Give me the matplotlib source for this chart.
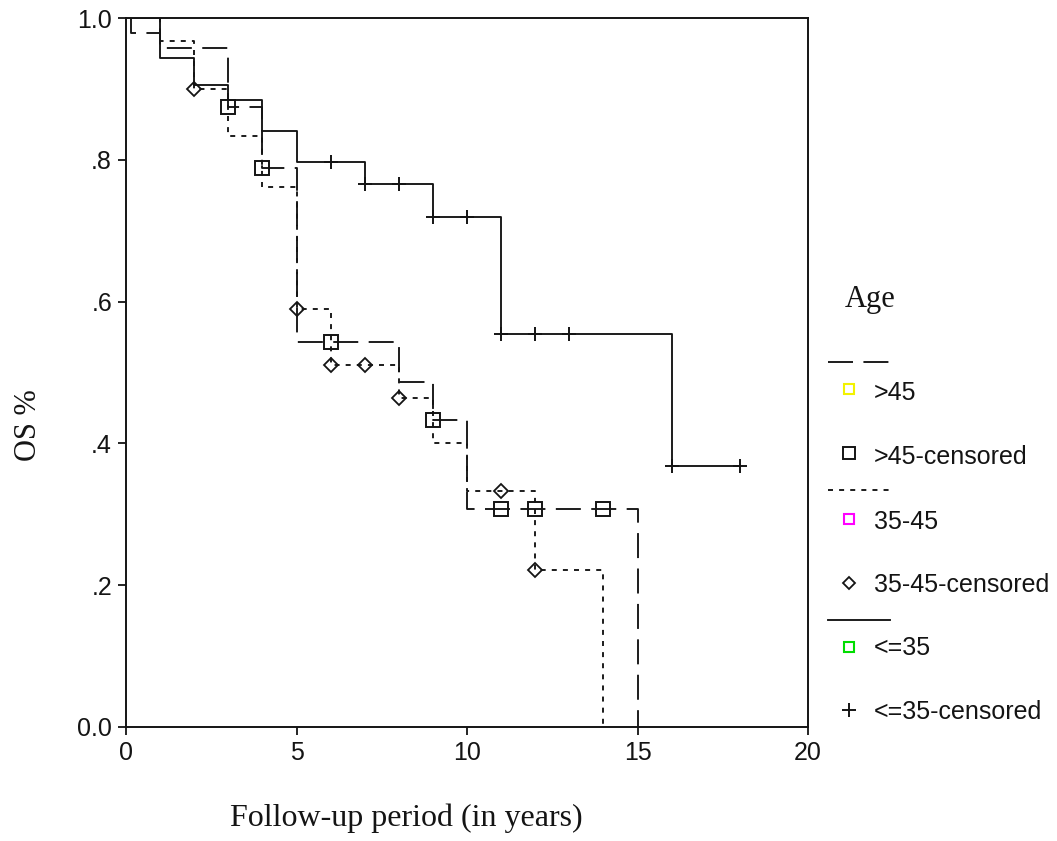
import matplotlib
matplotlib.use("Agg")
import matplotlib.pyplot as plt
from matplotlib.lines import Line2D

# Kaplan-Meier steps (time in years, survival fraction)
gt45_times = [0, 0.15, 1, 3, 4, 5, 8, 9, 10, 15]
gt45_surv = [1.0, 0.979, 0.957, 0.874, 0.788, 0.543, 0.487, 0.433, 0.308, 0.0]
gt45_cens_t = [3, 4, 6, 9, 11, 12, 14]
gt45_cens_s = [0.874, 0.788, 0.543, 0.433, 0.308, 0.308, 0.308]

mid_times = [0, 1, 2, 3, 4, 5, 6, 8, 9, 10, 12, 14]
mid_surv = [1.0, 0.967, 0.900, 0.833, 0.762, 0.589, 0.510, 0.464, 0.400, 0.333, 0.222, 0.0]
mid_cens_t = [2, 5, 6, 7, 8, 11, 12]
mid_cens_s = [0.900, 0.589, 0.510, 0.510, 0.464, 0.333, 0.222]

le35_times = [0, 1, 2, 3, 4, 5, 7, 9, 11, 16, 18]
le35_surv = [1.0, 0.943, 0.905, 0.884, 0.840, 0.797, 0.766, 0.720, 0.554, 0.368, 0.368]
le35_cens_t = [6, 7, 8, 9, 10, 11, 12, 13, 16, 18]
le35_cens_s = [0.797, 0.766, 0.766, 0.720, 0.720, 0.554, 0.554, 0.554, 0.368, 0.368]

x_ticks = [0, 5, 10, 15, 20]
y_ticks = [0.0, 0.2, 0.4, 0.6, 0.8, 1.0]
y_tick_labels = ["0.0", ".2", ".4", ".6", ".8", "1.0"]

legend_labels = [">45", ">45-censored", "35-45", "35-45-censored", "<=35", "<=35-censored"]

plt.rcParams['lines.scale_dashes'] = False
SANS = "Liberation Sans"
SERIF = "Liberation Serif"
INK = "#141414"
LONG = (0, (18, 7.5))
SHORT = (0, (3.6, 4.4))

W, H = 1057, 841
fig = plt.figure(figsize=(W / 100, H / 100), dpi=100)


def px(x, y):
    """pixel position -> figure fraction"""
    return x / W, 1 - y / H


ax = fig.add_axes([126 / W, 1 - 727 / H, (808 - 126) / W, (727 - 18) / H])

lw = 1.35
ax.step(gt45_times, gt45_surv, where='post', color=INK, lw=lw, linestyle=LONG)
ax.step(mid_times, mid_surv, where='post', color=INK, lw=lw, linestyle=SHORT)
ax.step(le35_times, le35_surv, where='post', color=INK, lw=lw, linestyle='-')

ax.plot(gt45_cens_t, gt45_cens_s, ls='none', marker='s', ms=10, mfc='none',
        mec=INK, mew=1.4)
ax.plot(mid_cens_t, mid_cens_s, ls='none', marker='D', ms=7, mfc='none',
        mec=INK, mew=1.3)
ax.plot(le35_cens_t, le35_cens_s, ls='none', marker='+', ms=10, mec=INK, mew=1.4)

ax.set_xlim(0, 20)
ax.set_ylim(0, 1.0)
ax.set_xticks(x_ticks)
ax.set_xticklabels([str(t) for t in x_ticks])
ax.set_yticks(y_ticks)
ax.set_yticklabels(y_tick_labels)
ax.tick_params(direction='out', length=6, width=1.3, colors=INK, labelsize=18,
               pad=4)
for lab in ax.get_xticklabels() + ax.get_yticklabels():
    lab.set_fontfamily(SANS)
for s in ax.spines.values():
    s.set_linewidth(1.4)
    s.set_color(INK)

fig.text(*px(406, 818), "Follow-up period (in years)", family=SERIF, fontsize=23,
         ha='center', va='center', color=INK)
fig.text(*px(29, 425), "OS %", family=SERIF, fontsize=22, rotation=90,
         ha='center', va='center', color=INK)

# legend drawn by hand, SPSS style
fig.text(*px(845, 300), "Age", family=SERIF, fontsize=22, ha='left', va='center',
         color=INK)
leg_lines = [(362, LONG), (490, SHORT), (620, '-')]
for y, style in leg_lines:
    x0, yy = px(828, y)
    x1, _ = px(890, y)
    fig.add_artist(Line2D([x0, x1], [yy, yy], transform=fig.transFigure,
                          color=INK, lw=lw, linestyle=style))

leg_marks = [
    (389, dict(marker='s', ms=7, mfc='none', mec='#f2f200', mew=1.5)),
    (453, dict(marker='s', ms=9, mfc='none', mec=INK, mew=1.4)),
    (519, dict(marker='s', ms=7, mfc='none', mec='#ff00ff', mew=1.5)),
    (583, dict(marker='D', ms=6, mfc='none', mec=INK, mew=1.3)),
    (647, dict(marker='s', ms=7, mfc='none', mec='#00dd00', mew=1.5)),
    (710, dict(marker='+', ms=10, mec=INK, mew=1.4)),
]
text_y = [393, 457, 522, 585, 648, 712]
for (my, style), ty, label in zip(leg_marks, text_y, legend_labels):
    mx, myf = px(849, my)
    fig.add_artist(Line2D([mx], [myf], transform=fig.transFigure, ls='none', **style))
    fig.text(*px(874, ty), label, family=SANS, fontsize=18, ha='left',
             va='center', color=INK)

fig.savefig("out.png", dpi=100)
